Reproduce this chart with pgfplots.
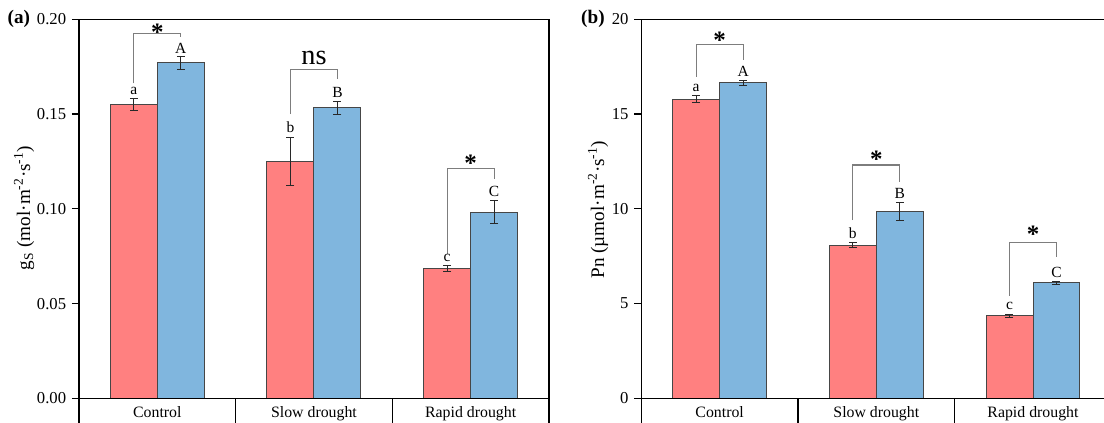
\documentclass[border=0pt]{standalone}
\usepackage{fontspec}
\setmainfont{Liberation Serif}
\usepackage{pgfplots}
\pgfplotsset{compat=1.18}
\definecolor{barred}{RGB}{255,128,128}
\definecolor{barblue}{RGB}{128,182,222}
\definecolor{edge}{RGB}{70,70,70}
\definecolor{brk}{RGB}{125,125,125}
\definecolor{errc}{RGB}{40,40,40}
\pgfplotsset{
  panel/.style={
    scale only axis, width=282pt, height=243.4pt,
    anchor=south west,
    xmin=-0.5, xmax=2.5, xtick=\empty,
    axis line style={black, line width=0.8pt},
    ytick pos=left, tick align=outside, major tick length=4.2pt,
    tick style={black, line width=0.8pt},
    yticklabel style={font=\fontsize{10}{10}\selectfont},
    /pgf/number format/assume math mode=true,
    ylabel style={font=\fontsize{11.5}{12}\selectfont, anchor=center},
    clip=false,
    ybar, bar width=0.3,
    every axis plot/.append style={draw=edge, line width=0.6pt},
    error bars/y dir=both, error bars/y explicit,
    error bars/error bar style={errc, line width=0.6pt},
    error bars/error mark options={rotate=90, mark size=2.4pt, errc, line width=0.6pt},
  },
}
\tikzset{
  catlab/.style={anchor=base, font=\fontsize{9.5}{10}\selectfont},
  letlab/.style={anchor=south, inner sep=0pt, font=\fontsize{9.3}{9}\selectfont},
  star/.style={anchor=north, inner sep=0pt, font=\bfseries\fontsize{15}{15}\selectfont},
  brack/.style={brk, line width=0.7pt},
}
\begin{document}
\begin{tikzpicture}
\path[use as bounding box] (0,0) rectangle (662.4pt,253.8pt);
\clip (0,0) rectangle (662.4pt,253.8pt);
% ---------------- panel (a)
\begin{axis}[panel, at={(47.4pt,-1.2pt)},
  ymin=-0.01407, ymax=0.2, ytick={0,0.05,0.1,0.15,0.2},
  yticklabel style={/pgf/number format/fixed, /pgf/number format/zerofill, /pgf/number format/precision=2},
  ylabel={g\textsubscript{S} (mol·m\textsuperscript{-2}·s\textsuperscript{-1})},
  ylabel style={at={(axis description cs:-0.117,0.535)}},
]
\addplot[fill=barred, bar shift=-0.15] coordinates {(0,0.155) +- (0,0.003) (1,0.125) +- (0,0.0126) (2,0.0684) +- (0,0.0017)};
\addplot[fill=barblue, bar shift=0.15] coordinates {(0,0.177) +- (0,0.0034) (1,0.1534) +- (0,0.0034) (2,0.0983) +- (0,0.0061)};
\draw[line width=0.8pt] (axis cs:-0.5,0) -- (axis cs:2.5,0);
\draw[line width=0.8pt] (axis cs:0.5,-0.01407) -- (axis cs:0.5,0);
\draw[line width=0.8pt] (axis cs:1.5,-0.01407) -- (axis cs:1.5,0);
\node[catlab] at (axis cs:0,-0.01003) {Control};
\node[catlab] at (axis cs:1,-0.01003) {Slow drought};
\node[catlab] at (axis cs:2,-0.01003) {Rapid drought};
% control
\draw[brack] (axis cs:-0.15,0.1662) |- (axis cs:0.15,0.1924) -- (axis cs:0.15,0.1908);
\node[star] at (axis cs:0,0.1975) {*};
\node[letlab] at (axis cs:-0.15,0.160) {a};
\node[letlab] at (axis cs:0.15,0.1817) {A};
% slow
\draw[brack] (axis cs:0.85,0.150) |- (axis cs:1.15,0.1736) -- (axis cs:1.15,0.1685);
\node[inner sep=0pt, anchor=center, font=\fontsize{17}{17}\selectfont] at (axis cs:1,0.1798) {ns};
\node[letlab] at (axis cs:0.85,0.1398) {b};
\node[letlab] at (axis cs:1.15,0.1588) {B};
% rapid
\draw[brack] (axis cs:1.85,0.0761) |- (axis cs:2.15,0.1214) -- (axis cs:2.15,0.1157);
\node[star] at (axis cs:2,0.1284) {*};
\node[letlab] at (axis cs:1.85,0.0721) {c};
\node[letlab] at (axis cs:2.15,0.1061) {C};
\node[font=\bfseries\fontsize{11.5}{12}\selectfont] at (axis description cs:-0.128,1) {(a)};
\end{axis}
% ---------------- panel (b)
\begin{axis}[panel, at={(384.8pt,-1.2pt)},
  ymin=-1.407, ymax=20, ytick={0,5,10,15,20},
  ylabel={Pn (µmol·m\textsuperscript{-2}·s\textsuperscript{-1})},
  ylabel style={at={(axis description cs:-0.092,0.531)}},
]
\addplot[fill=barred, bar shift=-0.15] coordinates {(0,15.79) +- (0,0.19) (1,8.09) +- (0,0.12) (2,4.36) +- (0,0.08)};
\addplot[fill=barblue, bar shift=0.15] coordinates {(0,16.65) +- (0,0.12) (1,9.85) +- (0,0.47) (2,6.10) +- (0,0.07)};
\draw[line width=0.8pt] (axis cs:-0.5,0) -- (axis cs:2.5,0);
\draw[line width=0.8pt] (axis cs:0.5,-1.407) -- (axis cs:0.5,0);
\draw[line width=0.8pt] (axis cs:1.5,-1.407) -- (axis cs:1.5,0);
\node[catlab] at (axis cs:0,-1.003) {Control};
\node[catlab] at (axis cs:1,-1.003) {Slow drought};
\node[catlab] at (axis cs:2,-1.003) {Rapid drought};
% control
\draw[brack] (axis cs:-0.15,16.97) |- (axis cs:0.15,18.68) -- (axis cs:0.15,17.85);
\node[star] at (axis cs:0,19.36) {*};
\node[letlab] at (axis cs:-0.15,16.18) {a};
\node[letlab] at (axis cs:0.15,16.97) {A};
% slow
\draw[brack] (axis cs:0.85,9.41) |- (axis cs:1.15,12.31) -- (axis cs:1.15,11.43);
\node[star] at (axis cs:1,13.06) {*};
\node[letlab] at (axis cs:0.85,8.39) {b};
\node[letlab] at (axis cs:1.15,10.5) {B};
% rapid
\draw[brack] (axis cs:1.85,5.41) |- (axis cs:2.15,8.23) -- (axis cs:2.15,7.47);
\node[star] at (axis cs:2,9.11) {*};
\node[letlab] at (axis cs:1.85,4.66) {c};
\node[letlab] at (axis cs:2.15,6.33) {C};
\node[font=\bfseries\fontsize{11.5}{12}\selectfont] at (axis description cs:-0.103,1) {(b)};
\end{axis}
\end{tikzpicture}
\end{document}
